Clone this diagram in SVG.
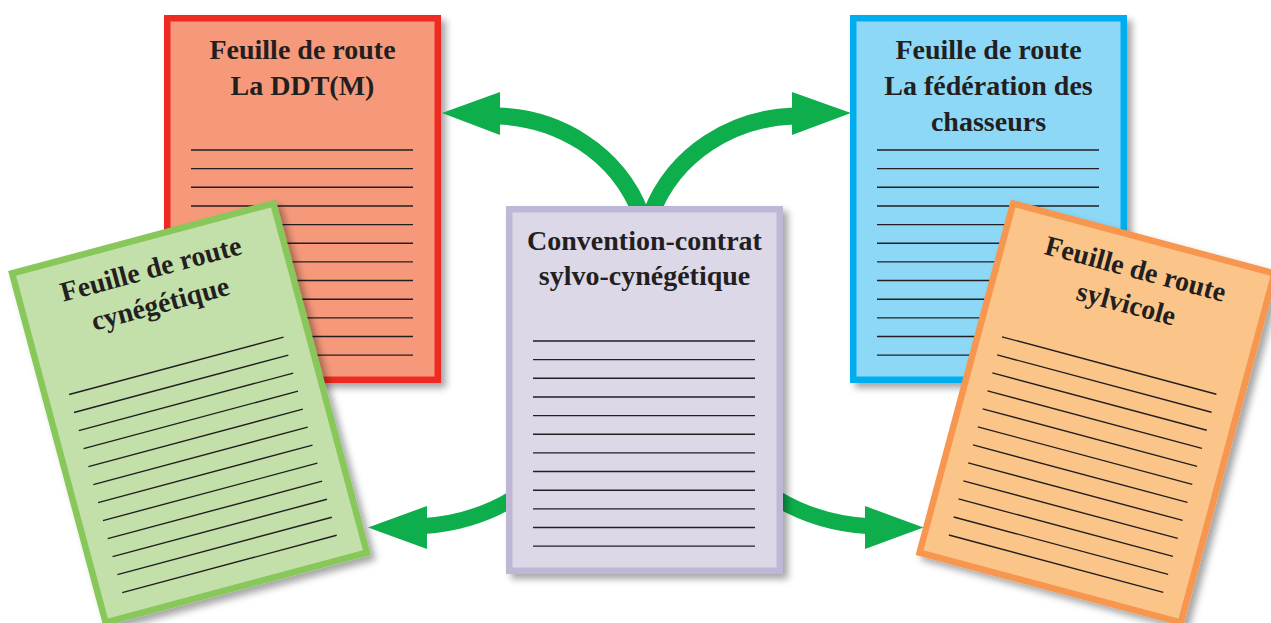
<svg xmlns="http://www.w3.org/2000/svg" xmlns:xlink="http://www.w3.org/1999/xlink" width="1271" height="623" viewBox="0 0 1271 623">
<style>
.t{font-family:"Liberation Serif","Times New Roman",serif;font-weight:bold;font-size:28px;fill:#231f20;text-anchor:middle}
.ln{fill:none;stroke:#231f20;stroke-width:1.4}
.shaft{fill:none;stroke:#0dae4b;stroke-width:17}
.head{fill:#0dae4b}
.red{fill:#f6997a;stroke:#ee2b24;stroke-width:6.5}
.blue{fill:#8dd8f7;stroke:#00aeef;stroke-width:6.5}
.purple{fill:#dcd8e8;stroke:#bfb7d6;stroke-width:6.5}
.green{fill:#c3dfaa;stroke:#88c75a;stroke-width:6.5}
.orange{fill:#fbc58a;stroke:#f79650;stroke-width:6.5}
</style>
<defs>
<filter id="sh" x="-10%" y="-10%" width="130%" height="130%">
<feDropShadow dx="5" dy="5" stdDeviation="3.5" flood-color="#000" flood-opacity="0.35"/>
</filter>
<path id="lines" class="ln" d="M27 135H249M27 153.65H249M27 172.3H249M27 190.95H249M27 209.6H249M27 228.25H249M27 246.9H249M27 265.55H249M27 284.2H249M27 302.85H249M27 321.5H249M27 340.15H249"/>
</defs>

<g id="node-ddtm">
<rect class="red" x="167.25" y="18.25" width="270.5" height="361.5" filter="url(#sh)"/>
<text class="t" x="302.5" y="59">Feuille de route</text>
<text class="t" x="302.5" y="95">La DDT(M)</text>
<use xlink:href="#lines" x="164" y="15"/>
</g>

<g id="node-federation">
<rect class="blue" x="853.25" y="18.25" width="270.5" height="361.5" filter="url(#sh)"/>
<text class="t" x="988.5" y="59">Feuille de route</text>
<text class="t" x="988.5" y="95">La fédération des</text>
<text class="t" x="988.5" y="131">chasseurs</text>
<use xlink:href="#lines" x="850" y="15"/>
</g>

<g id="node-cynegetique">
<g filter="url(#sh)">
<rect class="green" transform="translate(189.5 413) rotate(-15)" x="-135.25" y="-180.75" width="270.5" height="361.5"/>
</g>
<g transform="translate(189.5 413) rotate(-15)">
<text class="t" x="0" y="-140">Feuille de route</text>
<text class="t" x="0" y="-104">cynégétique</text>
<use xlink:href="#lines" x="-138.5" y="-184"/>
</g>
</g>

<g id="node-sylvicole">
<g filter="url(#sh)">
<rect class="orange" transform="translate(1097 413) rotate(15)" x="-135.25" y="-180.75" width="270.5" height="361.5"/>
</g>
<g transform="translate(1097 413) rotate(15)">
<text class="t" x="0" y="-140">Feuille de route</text>
<text class="t" x="0" y="-104">sylvicole</text>
<use xlink:href="#lines" x="-138.5" y="-184"/>
</g>
</g>

<g id="connectors">
<path class="shaft" d="M641 214C617 152 558 118 498 116"/>
<polygon class="head" points="442,113 500,92 500,135"/>
<path class="shaft" d="M651 214C675 152 734 118 794 116"/>
<polygon class="head" points="851,113 792,92 792,135"/>
<path class="shaft" style="stroke-width:16" d="M514 498C486 515 456 524 424 526"/>
<polygon class="head" points="368,527.5 427,506 427,549"/>
<path class="shaft" style="stroke-width:16" d="M776 498C804 515 834 524 867 526"/>
<polygon class="head" points="923.5,527.5 865,506 865,549"/>
</g>

<g id="node-convention">
<rect class="purple" x="509.25" y="209.25" width="270.5" height="361.5" filter="url(#sh)"/>
<text class="t" x="644.5" y="250">Convention-contrat</text>
<text class="t" x="644.5" y="285">sylvo-cynégétique</text>
<use xlink:href="#lines" x="506" y="206"/>
</g>
</svg>
